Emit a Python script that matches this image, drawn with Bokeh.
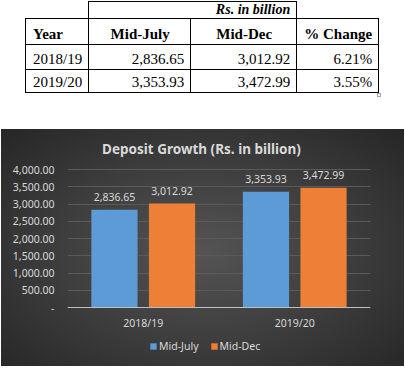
from bokeh.plotting import figure
from bokeh.models import (ColumnDataSource, FactorRange, Range1d, FixedTicker,
                          NumeralTickFormatter, Legend, LegendItem, Label, Div)
from bokeh.transform import dodge
from bokeh.layouts import column
from bokeh.embed import file_html
from bokeh.resources import INLINE
from bokeh.core.properties import value

# ---------------- data ----------------
years = ["2018/19", "2019/20"]
mid_july = [2836.65, 3353.93]
mid_dec = [3012.92, 3472.99]
pct_change = [6.21, 3.55]
series_names = ["Mid-July", "Mid-Dec"]
table_headers = ["Year", "Mid-July", "Mid-Dec", "% Change"]
unit_note = "Rs. in billion"
chart_title = "Deposit Growth (Rs. in billion)"
y_ticks = [0, 500, 1000, 1500, 2000, 2500, 3000, 3500, 4000]


def fmt(v):
    return f"{v:,.2f}"


# ---------------- table (HTML) ----------------
SERIF = "'Liberation Serif', 'Times New Roman', serif"
td = ("border:1px solid #000;padding:0 6px 1px 7px;vertical-align:bottom;"
      "line-height:17px;white-space:nowrap;overflow:hidden;")
rows_html = []
rows_html.append(
    f'<tr style="height:16px">'
    f'<td style="border:none;padding:0"></td>'
    f'<td colspan="2" style="{td}text-align:right;font-weight:bold;font-style:italic;font-size:14px;line-height:15px;">{unit_note}</td>'
    f'<td style="border:none;padding:0"></td></tr>'
)
hdr_cells = []
for i, h in enumerate(table_headers):
    align = "left" if i == 0 else "center"
    hdr_cells.append(f'<td style="{td}text-align:{align};font-weight:bold;">{h}</td>')
rows_html.append('<tr style="height:26px">' + "".join(hdr_cells) + "</tr>")
row_heights = [25, 23]
for k, yr in enumerate(years):
    cells = [
        f'<td style="{td}text-align:left;">{yr}</td>',
        f'<td style="{td}text-align:right;">{fmt(mid_july[k])}</td>',
        f'<td style="{td}text-align:right;">{fmt(mid_dec[k])}</td>',
        f'<td style="{td}text-align:right;">{pct_change[k]:.2f}%</td>',
    ]
    rows_html.append(f'<tr style="height:{row_heights[k]}px">' + "".join(cells) + "</tr>")

PAGE_W = 405
DIV_H = 129
table_html = (
    f'<div style="position:relative;width:{PAGE_W}px;height:{DIV_H}px;background:#fff;">'
    f'<table style="position:absolute;left:25px;top:1px;border-collapse:collapse;'
    f'table-layout:fixed;font-family:{SERIF};font-size:15px;color:#000;">'
    '<colgroup><col style="width:63px"><col style="width:102px">'
    '<col style="width:106px"><col style="width:82px"></colgroup>'
    + "".join(rows_html) +
    '</table>'
    '<div style="position:absolute;left:377px;top:93px;width:4px;height:4px;'
    'border:1px solid #a6a6a6;"></div>'
    '</div>'
)
table_div = Div(text=table_html, width=PAGE_W, height=DIV_H, margin=0)

# ---------------- chart ----------------
FONT = "Noto Sans"
TXT = "#d9d9d9"
FS = "10.5px"

# chart geometry in pixels: the frame covers the full height; the 4,000 line
# sits 40 px below the top and the zero line 59 px above the bottom.
FIG_W, FIG_H = 403, 237
PX_TOP_TO_4000 = 40
PX_ZERO_TO_BOTTOM = 59
plot_px = FIG_H - PX_TOP_TO_4000 - PX_ZERO_TO_BOTTOM     # 138 px for 0..4000
units_per_px = y_ticks[-1] / plot_px
y_start = -PX_ZERO_TO_BOTTOM * units_per_px
y_end = y_ticks[-1] + PX_TOP_TO_4000 * units_per_px

src = ColumnDataSource(dict(
    year=years,
    july=mid_july,
    dec=mid_dec,
    july_lbl=[fmt(v) for v in mid_july],
    dec_lbl=[fmt(v) for v in mid_dec],
))

p = figure(x_range=FactorRange(factors=years), y_range=Range1d(y_start, y_end),
           width=FIG_W, height=FIG_H, output_backend="svg", toolbar_location=None,
           min_border_left=66, min_border_right=34, min_border_top=0,
           min_border_bottom=0, margin=(0, 1, 0, 1))
p.styles = {"background": "radial-gradient(ellipse at 50% 52%, #545454 0%, #3e3e3e 50%, #262626 100%)"}
p.border_fill_color = None
p.background_fill_color = None
p.outline_line_color = None

r1 = p.vbar(x=dodge("year", -0.19, range=p.x_range), top="july", bottom=0, width=0.305,
            source=src, fill_color="#5d9bd7", line_color=None)
r2 = p.vbar(x=dodge("year", 0.19, range=p.x_range), top="dec", bottom=0, width=0.305,
            source=src, fill_color="#ee7f36", line_color=None)

for off, col, lbl in [(-0.19, "july", "july_lbl"), (0.19, "dec", "dec_lbl")]:
    p.text(x=dodge("year", off, range=p.x_range), y=col, text=lbl, source=src,
           text_align="center", text_baseline="middle", y_offset=-13,
           text_font=value(FONT), text_font_size=FS, text_color=TXT)

p.yaxis.ticker = FixedTicker(ticks=y_ticks)
p.yaxis.formatter = NumeralTickFormatter(format="0,0.00")
p.yaxis.major_label_overrides = {0: "-"}
p.yaxis.axis_line_color = None
p.yaxis.major_tick_line_color = None
p.yaxis.minor_tick_line_color = None
p.yaxis.major_tick_out = 0
p.yaxis.major_tick_in = 0
p.yaxis.major_label_standoff = 13

p.xaxis.fixed_location = 0
p.xaxis.axis_line_color = "#bfbfbf"
p.xaxis.major_tick_line_color = None
p.xaxis.minor_tick_line_color = None
p.xaxis.major_tick_out = 0
p.xaxis.major_tick_in = 0
p.xaxis.major_label_standoff = 8

for ax in (p.xaxis, p.yaxis):
    ax.major_label_text_font = FONT
    ax.major_label_text_font_size = FS
    ax.major_label_text_color = TXT

p.xgrid.grid_line_color = None
p.ygrid.ticker = FixedTicker(ticks=y_ticks)
p.ygrid.grid_line_color = "#5a5a5a"

legend = Legend(items=[LegendItem(label=series_names[0], renderers=[r1]),
                       LegendItem(label=series_names[1], renderers=[r2])],
                location=(82, 13), orientation="horizontal",
                glyph_width=8, glyph_height=8, label_height=12, label_width=10,
                label_standoff=2, spacing=11, padding=0, margin=0,
                border_line_color=None, background_fill_alpha=0,
                label_text_color=TXT, label_text_font=FONT,
                label_text_font_size=FS)
p.add_layout(legend)

title = Label(x=134, y=FIG_H - 19, x_units="screen", y_units="screen", text=chart_title,
              text_align="center", text_baseline="middle", text_font=FONT,
              text_font_style="bold", text_font_size="13.5px", text_color=TXT)
p.add_layout(title)

layout = column(table_div, p)
open("out.html", "w").write(file_html(layout, INLINE))
